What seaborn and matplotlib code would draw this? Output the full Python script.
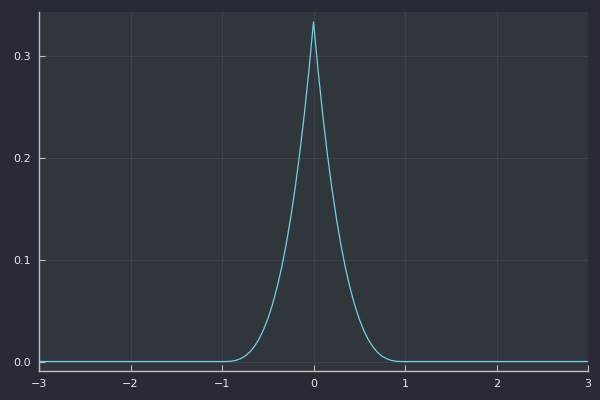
import matplotlib
matplotlib.use("Agg")
import matplotlib.pyplot as plt
import seaborn as sns
import pandas as pd

# values
x = [-3.0, -2.0, -1.0, -0.95, -0.9, -0.85, -0.8, -0.75, -0.7, -0.65, -0.6, -0.55,
     -0.5, -0.45, -0.4, -0.35, -0.3, -0.25, -0.2, -0.15, -0.1, -0.05, 0.0,
     0.05, 0.1, 0.15, 0.2, 0.25, 0.3, 0.35, 0.4, 0.45, 0.5, 0.55, 0.6, 0.65,
     0.7, 0.75, 0.8, 0.85, 0.9, 0.95, 1.0, 2.0, 3.0]
y = [0.0, 0.0, 0.0, 0.00004, 0.0003, 0.0011, 0.0027, 0.0052, 0.009, 0.0143, 0.0213, 0.0304,
     0.0417, 0.0555, 0.072, 0.0915, 0.1143, 0.1406, 0.1707, 0.2047, 0.243, 0.2858, 0.3333,
     0.2858, 0.243, 0.2047, 0.1707, 0.1406, 0.1143, 0.0915, 0.072, 0.0555, 0.0417, 0.0304, 0.0213, 0.0143,
     0.009, 0.0052, 0.0027, 0.0011, 0.0003, 0.00004, 0.0, 0.0, 0.0]

x_ticks = [-3, -2, -1, 0, 1, 2, 3]
y_ticks = [0.0, 0.1, 0.2, 0.3]

outer_bg = "#282b35"
inner_bg = "#31363d"
line_color = "#6fd3e4"
text_color = "#e8e8e8"

sns.set_style("dark")
plt.rcParams['font.family'] = ['DejaVu Sans']

df = pd.DataFrame({"x": x, "y": y})

fig = plt.figure(figsize=(6, 4), dpi=100, facecolor=outer_bg)
ax = fig.add_axes([0.065, 0.0725, 0.915, 0.8975])
ax.set_facecolor(inner_bg)

sns.lineplot(data=df, x="x", y="y", ax=ax, color=line_color, linewidth=0.9)

ax.set_xlim(-3, 3)
ax.set_ylim(-0.0093, 0.343)
ax.set_xticks(x_ticks)
ax.set_xticklabels(["\u2212" + str(-t) if t < 0 else str(t) for t in x_ticks])
ax.set_yticks(y_ticks)
ax.set_yticklabels([f"{t:.1f}" for t in y_ticks])
ax.set_xlabel("")
ax.set_ylabel("")

ax.grid(True, color="#ffffff", alpha=0.06, linewidth=0.7)
for s in ["top", "right"]:
    ax.spines[s].set_visible(False)
for s in ["left", "bottom"]:
    ax.spines[s].set_visible(True)
    ax.spines[s].set_color("#c0c0c0")
    ax.spines[s].set_linewidth(1.0)

ax.tick_params(direction="in", length=4, width=0.8, color="#c0c0c0",
               labelcolor=text_color, labelsize=8, bottom=True, left=True)
ax.tick_params(axis="x", pad=6)
ax.tick_params(axis="y", pad=6)

fig.savefig("out.png", dpi=100, facecolor=outer_bg)
